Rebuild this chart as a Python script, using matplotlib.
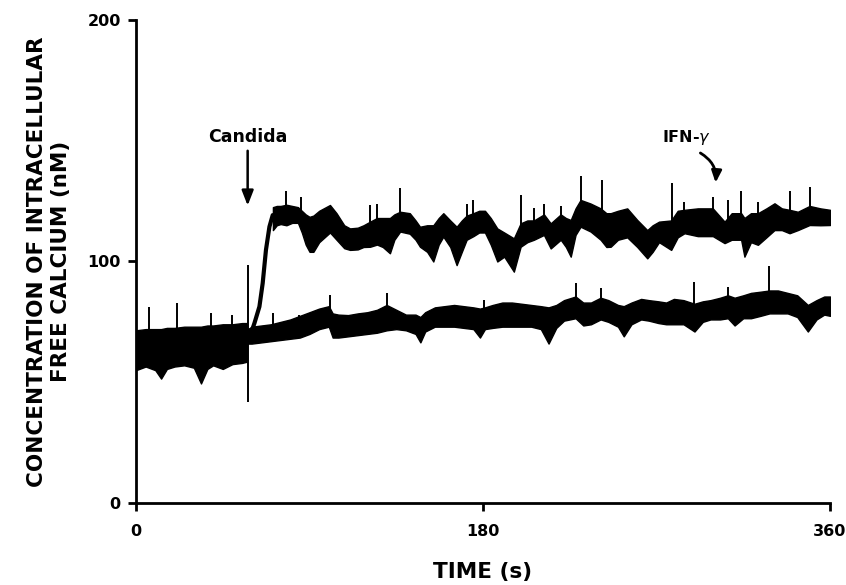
import matplotlib
matplotlib.use("Agg")
import matplotlib.pyplot as plt

plt.rcParams['font.family'] = ['DejaVu Sans']

# Resting trace before stimulation (both cells overlap), envelope of the noisy band
base_t = [0, 5, 10, 13, 16, 20, 25, 30, 33.7, 37, 40, 45, 50, 55, 57.5]
base_top = [71.5, 72, 72, 72, 72.5, 72.5, 73, 73, 73, 73.5, 73.5, 74, 74, 74.5, 74.5]
base_bot = [55, 56.5, 55, 51.5, 55.5, 56.5, 57, 56, 49.5, 55.5, 57, 55.5, 57.5, 58, 58.5]

# Lower trace after Candida
low_t = [58, 60, 65, 70, 75, 80, 85, 90, 95, 100, 102, 105, 110, 115, 120, 125, 130,
         135, 140, 145, 147.5, 150, 155, 160, 165, 170, 175, 178.4, 181, 185, 190, 195,
         200, 205, 210, 214, 218, 222, 228, 232, 236, 241, 245, 250, 253, 257, 262, 266,
         271, 275, 279, 284, 289.7, 294, 298, 303, 307, 310.5, 315, 319, 324, 328.6, 333,
         338, 343, 348.5, 353, 357, 360]
low_top = [72, 73, 73.5, 74, 75, 76, 77.5, 79, 80.5, 81.5, 78.5, 78, 77.8, 78.5, 79, 80, 82,
           80, 78, 78, 77, 79, 81, 81.5, 82, 81.5, 81, 80.5, 81, 82, 83, 83,
           82.5, 82, 81.5, 81, 82, 84, 85.5, 83, 83, 85, 84, 82, 81.5, 83, 84.5, 84,
           83.5, 83, 84.5, 84, 82.5, 83.5, 84, 85, 86, 85, 86, 87, 87.5, 88, 88,
           87, 86, 82, 84, 85.5, 85.5]
low_bot = [66, 66, 66.5, 67, 67.5, 68, 68.5, 70, 72, 73, 68.5, 68.5, 69, 69.5, 70, 70.5, 71.5,
           72, 71.5, 70, 66.5, 71, 73, 73, 73, 72.5, 72, 68.5, 72, 72.5, 73, 73,
           73, 73, 72, 66, 72.5, 75.5, 76.5, 73.5, 74, 76, 75, 73, 69, 74, 76, 75.5,
           74.5, 74, 74, 74, 71, 75, 76, 76, 76.5, 73.5, 76.5, 76.5, 77.5, 78.5, 78.5,
           78.5, 77, 71, 76, 78, 77.5]

# Upper trace: fast rise after Candida, then noisy plateau
rise_t = [57.5, 59.5, 61.4, 64, 65.7, 67.4, 69.2, 70.9, 72]
rise_v = [68, 70, 74.4, 81.3, 91, 104.8, 114.4, 119.2, 119]

up_t = [71, 73, 75, 78, 81, 84, 86, 88, 90, 92, 95, 100.6, 104, 108, 111, 115, 118,
        121.4, 125, 128, 131.7, 134, 137, 142, 145, 147.3, 151, 154.2, 157, 159.4, 163,
        166.3, 169, 171.5, 175, 178, 181, 184, 187.4, 191, 196, 199.5, 203, 206.4, 211.6,
        215.1, 220.3, 223, 225.5, 228, 230.6, 235.8, 241, 244, 246.2, 250, 254.8, 260,
        265.2, 268, 271.3, 277.6, 281, 284.5, 291.4, 299.2, 305.3, 309, 313.9, 315.6,
        319, 322.6, 327, 331.2, 335, 339, 343.3, 349.4, 355, 360]
up_top = [122.5, 123, 123, 123.5, 123, 122.5, 121, 119.5, 118.5, 119, 121, 123.4, 120, 115,
          113.7, 114, 115, 116.5, 118, 118, 118, 119.5, 120.6, 120, 117, 114.4, 115, 115,
          118, 120, 117, 114.4, 117, 119, 120, 121, 121, 118, 113.7, 112, 109.6, 115.8,
          117, 117, 119.5, 115.8, 119.5, 118, 117.2, 122, 125.5, 124, 122, 120, 120, 121,
          122, 117.2, 113, 115, 116.5, 117, 121, 121.4, 122, 122, 116.5, 120, 120, 118,
          120, 120, 122, 124.1, 122, 121.4, 120.6, 123, 122, 121.4]
up_bot = [113, 115, 115.5, 115, 116, 116, 112, 107, 104, 104, 108, 112, 109, 105.5, 104.8,
          105, 106, 106.1, 107, 106, 103.4, 109, 112.4, 111.5, 109, 106.1, 104, 100, 107,
          110.3, 106, 98.5, 104, 109, 110.5, 112, 112, 107, 100, 102, 95.8, 106.1, 108,
          109, 111, 105.4, 109, 106, 102, 111, 114.4, 112.4, 109, 106, 106.1, 109, 110,
          106, 101.3, 104, 108, 104.8, 110, 111.7, 110.5, 110.5, 107.6, 109, 109, 102,
          108, 106.9, 110, 113, 113, 111.7, 113, 115.1, 115, 115.1]

# Brief spikes rising above the band
low_spike_t = [6.9, 21.3, 38.9, 50, 70.9, 84.7, 100.6, 130, 180.5, 228, 241, 289.7, 307, 328.6]
low_spike_v = [81.3, 82.7, 78.5, 77.8, 78.5, 78, 86.1, 86.8, 84, 91, 88.9, 91.7, 89.6, 98.2]
up_spike_t = [77.8, 85.6, 121.4, 124.8, 137, 171.5, 175, 199.5, 206.4, 211.6, 220.3,
              230.6, 241.5, 277.8, 284.5, 299.2, 307, 313.9, 322.6, 339, 349.4]
up_spike_v = [129, 126.8, 123.4, 124, 130.3, 124, 125.5, 127.5, 122, 124, 123,
              135.4, 133.7, 132.4, 124.5, 126.9, 125.5, 129, 124.6, 129, 131]

# Injection artefact at Candida addition
inj_t = 57.9
inj_lo, inj_hi = 42, 98.5

fig = plt.figure(figsize=(8.46, 5.85), dpi=100)
ax = fig.add_axes([0.1608, 0.1402, 0.8203, 0.8256])

ax.fill_between(base_t, base_bot, base_top, color='black', lw=1.0)
ax.fill_between(low_t, low_bot, low_top, color='black', lw=1.0)
ax.fill_between(up_t, up_bot, up_top, color='black', lw=1.0)
ax.plot(rise_t, rise_v, color='black', lw=3)

def band_top(t, ts, tops):
    # nearest band top for the spike foot
    i = min(range(len(ts)), key=lambda k: abs(ts[k] - t))
    return tops[i] - 2

all_t = base_t + low_t
all_top = base_top + low_top
for t, v in zip(low_spike_t, low_spike_v):
    ax.vlines(t, band_top(t, all_t, all_top), v, color='black', lw=1.4)
for t, v in zip(up_spike_t, up_spike_v):
    ax.vlines(t, band_top(t, up_t, up_top), v, color='black', lw=1.4)
ax.vlines(inj_t, inj_lo, inj_hi, color='black', lw=1.4)

# Annotations
ax.annotate('', xy=(inj_t, 122), xytext=(inj_t, 147),
            arrowprops=dict(arrowstyle='-|>,head_width=0.35,head_length=0.9',
                            color='black', lw=1.8))
ax.text(inj_t, 151.5, 'Candida', ha='center', va='center', fontsize=12.5,
        fontweight='bold')
ax.annotate('', xy=(300.5, 131.5), xytext=(291.5, 145.5),
            arrowprops=dict(arrowstyle='-|>,head_width=0.3,head_length=0.7',
                            color='black', lw=2,
                            connectionstyle='arc3,rad=-0.35'))
ax.text(285.5, 151.5, 'IFN-$\\gamma$', ha='center', va='center', fontsize=11.5,
        fontweight='bold')

ax.set_xlim(0, 360)
ax.set_ylim(0, 200)
ax.set_xticks([0, 180, 360])
ax.set_yticks([0, 100, 200])
ax.spines['top'].set_visible(False)
ax.spines['right'].set_visible(False)
ax.spines['left'].set_linewidth(2)
ax.spines['bottom'].set_linewidth(2)
ax.tick_params(axis='both', direction='out', width=2, length=6, pad=5,
               labelsize=11.5)
for lab in ax.get_xticklabels() + ax.get_yticklabels():
    lab.set_fontweight('bold')
ax.tick_params(axis='x', pad=9)

ax.set_xlabel('TIME (s)', fontsize=15.5, fontweight='bold', labelpad=17)
ax.set_ylabel('CONCENTRATION OF INTRACELLULAR\nFREE CALCIUM (nM)', fontsize=15.5,
              fontweight='bold', labelpad=12, linespacing=1.25)

fig.savefig('out.png', dpi=100)
